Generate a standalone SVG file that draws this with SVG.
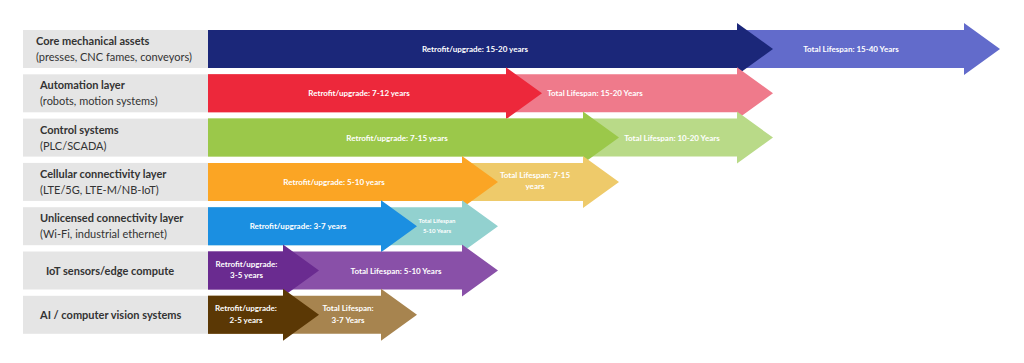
<svg xmlns="http://www.w3.org/2000/svg" width="1024" height="363" viewBox="0 0 1024 363">
<style>
.box{fill:#e5e5e5}
.t{font-family:Lato,"Liberation Sans",sans-serif;font-size:11px;fill:#333333}
.b{font-weight:bold}
.w{font-family:Lato,"Liberation Sans",sans-serif;font-size:8px;font-weight:bold;fill:#ffffff;text-anchor:middle}
.ws{font-size:6px}
</style>
<rect width="1024" height="363" fill="#ffffff"/>
<g id="row1">
<rect class="box" x="23" y="30" width="185" height="38"/>
<text class="t b" x="36" y="45">Core mechanical assets</text>
<text class="t" x="36" y="61">(presses, CNC fames, conveyors)</text>
<path d="M208,30H964V23L1000,49L964,75V68H208Z" fill="#626bcb"/>
<path d="M208,30H737V23L773,49L737,75V68H208Z" fill="#1b2779"/>
<text class="w" x="475" y="52">Retrofit/upgrade: 15-20 years</text>
<text class="w" x="851" y="52">Total Lifespan: 15-40 Years</text>
</g>
<g id="row2">
<rect class="box" x="23" y="74.3" width="185" height="38"/>
<text class="t b" x="40" y="89.3">Automation layer</text>
<text class="t" x="40" y="105.3">(robots, motion systems)</text>
<path d="M208,74.3H737V67.3L773,93.3L737,119.3V112.3H208Z" fill="#ef7a8b"/>
<path d="M208,74.3H506V67.3L542,93.3L506,119.3V112.3H208Z" fill="#ed283b"/>
<text class="w" x="359" y="96.3">Retrofit/upgrade: 7-12 years</text>
<text class="w" x="595" y="96.3">Total Lifespan: 15-20 Years</text>
</g>
<g id="row3">
<rect class="box" x="23" y="118.6" width="185" height="38"/>
<text class="t b" x="40" y="133.6">Control systems</text>
<text class="t" x="40" y="149.6">(PLC/SCADA)</text>
<path d="M208,118.6H737V111.6L773,137.6L737,163.6V156.6H208Z" fill="#b9da88"/>
<path d="M208,118.6H583V111.6L619,137.6L583,163.6V156.6H208Z" fill="#9bc84a"/>
<text class="w" x="397" y="140.6">Retrofit/upgrade: 7-15 years</text>
<text class="w" x="672" y="140.6">Total Lifespan: 10-20 Years</text>
</g>
<g id="row4">
<rect class="box" x="23" y="162.9" width="185" height="38"/>
<text class="t b" x="40" y="177.9">Cellular connectivity layer</text>
<text class="t" x="40" y="193.9">(LTE/5G, LTE-M/NB-IoT)</text>
<path d="M208,162.9H583V155.9L619,181.9L583,207.9V200.9H208Z" fill="#eeca6a"/>
<path d="M208,162.9H462V155.9L498,181.9L462,207.9V200.9H208Z" fill="#fba524"/>
<text class="w" x="334" y="184.9">Retrofit/upgrade: 5-10 years</text>
<text class="w" x="535" y="177.7">Total Lifespan: 7-15</text>
<text class="w" x="535" y="189.2">years</text>
</g>
<g id="row5">
<rect class="box" x="23" y="207.2" width="185" height="38"/>
<text class="t b" x="40" y="222.2">Unlicensed connectivity layer</text>
<text class="t" x="40" y="238.2">(Wi-Fi, industrial ethernet)</text>
<path d="M208,207.2H462V200.2L498,226.2L462,252.2V245.2H208Z" fill="#92d1cf"/>
<path d="M208,207.2H381V200.2L417,226.2L381,252.2V245.2H208Z" fill="#1b8fe1"/>
<text class="w" x="298" y="229.2">Retrofit/upgrade: 3-7 years</text>
<text class="w ws" x="437" y="223.3">Total Lifespan</text>
<text class="w ws" x="437" y="233.3">5-10 Years</text>
</g>
<g id="row6">
<rect class="box" x="23" y="251.5" width="185" height="38"/>
<text class="t b" x="46" y="274.5">IoT sensors/edge compute</text>
<path d="M208,251.5H462V244.5L498,270.5L462,296.5V289.5H208Z" fill="#8950a8"/>
<path d="M208,251.5H283V244.5L319,270.5L283,296.5V289.5H208Z" fill="#6a2b90"/>
<text class="w" x="246.5" y="267.3">Retrofit/upgrade:</text>
<text class="w" x="246.5" y="278.3">3-5 years</text>
<text class="w" x="396" y="273.5">Total Lifespan: 5-10 Years</text>
</g>
<g id="row7">
<rect class="box" x="23" y="295.8" width="185" height="38"/>
<text class="t b" x="40" y="318.6">AI / computer vision systems</text>
<path d="M208,295.8H381V288.8L417,314.8L381,340.8V333.8H208Z" fill="#a7844f"/>
<path d="M208,295.8H283V288.8L319,314.8L283,340.8V333.8H208Z" fill="#5b3805"/>
<text class="w" x="246" y="311.3">Retrofit/upgrade:</text>
<text class="w" x="246" y="322.5">2-5 years</text>
<text class="w" x="348" y="311.3">Total Lifespan:</text>
<text class="w" x="348" y="322.5">3-7 Years</text>
</g>
</svg>
